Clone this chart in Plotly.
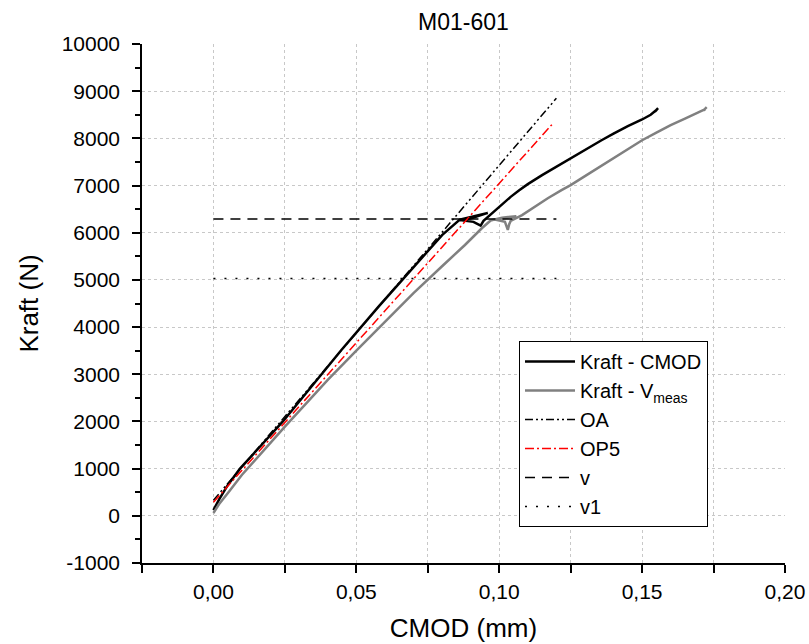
import plotly.graph_objects as go

# ---- data ----
cmod_x = [0.0, 0.002, 0.005, 0.0093, 0.0243, 0.0377, 0.0447, 0.058, 0.0715, 0.080, 0.0862,
          0.091, 0.096, 0.090, 0.0862, 0.091, 0.0935, 0.0945, 0.0955,
          0.098, 0.101, 0.104, 0.107, 0.110, 0.115, 0.120, 0.125, 0.130, 0.1358, 0.140,
          0.145, 0.150, 0.153, 0.1552, 0.1545, 0.1556]
cmod_f = [120, 350, 650, 1000, 2000, 3000, 3510, 4450, 5383, 5950, 6280,
          6350, 6420, 6300, 6270, 6230, 6150, 6250, 6303,
          6450, 6610, 6760, 6900, 7030, 7220, 7400, 7580, 7760, 7960, 8100,
          8260, 8400, 8500, 8610, 8570, 8640]

vmeas_x = [0.0, 0.002, 0.005, 0.010, 0.025, 0.040, 0.050, 0.060, 0.070, 0.080, 0.088,
           0.094, 0.097, 0.101, 0.106, 0.101, 0.0985, 0.102, 0.103, 0.1035, 0.104,
           0.108, 0.112, 0.117, 0.1218, 0.125, 0.130, 0.135, 0.140, 0.145, 0.150,
           0.155, 0.160, 0.165, 0.170, 0.1721, 0.1714, 0.1726]
vmeas_f = [60, 250, 480, 870, 1890, 2880, 3500, 4120, 4720, 5290, 5740,
           6100, 6260, 6320, 6350, 6300, 6280, 6230, 6060, 6180, 6250,
           6373, 6540, 6730, 6903, 7010, 7200, 7390, 7570, 7760, 7960,
           8120, 8280, 8420, 8560, 8620, 8590, 8660]

oa_x = [0.0, 0.12]
oa_f = [330, 8850]

op5_x = [0.0, 0.119]
op5_f = [290, 8330]

v_x = [0.0, 0.12]
v_f = [6290, 6290]

v1_x = [0.0, 0.12]
v1_f = [5030, 5030]

x_tickvals = [0.0, 0.05, 0.10, 0.15, 0.20]
x_ticktext = ["0,00", "0,05", "0,10", "0,15", "0,20"]
x_minorvals = [-0.025, 0.025, 0.075, 0.125, 0.175]
y_tickvals = [-1000, 0, 1000, 2000, 3000, 4000, 5000, 6000, 7000, 8000, 9000, 10000]
y_ticktext = [str(v) for v in y_tickvals]
y_minorvals = [-500 + 1000 * i for i in range(11)]

FONT = "Liberation Sans, Arial, sans-serif"

fig = go.Figure()
fig.add_trace(go.Scatter(x=cmod_x, y=cmod_f, mode="lines", name="Kraft - CMOD",
                         line=dict(color="black", width=2.5)))
fig.add_trace(go.Scatter(x=vmeas_x, y=vmeas_f, mode="lines", name="Kraft - V<sub>meas</sub>",
                         line=dict(color="#808080", width=2.5)))
fig.add_trace(go.Scatter(x=oa_x, y=oa_f, mode="lines", name="OA",
                         line=dict(color="black", width=1.5, dash="8px,3px,2px,3px,2px,3px")))
fig.add_trace(go.Scatter(x=op5_x, y=op5_f, mode="lines", name="OP5",
                         line=dict(color="red", width=1.5, dash="9px,3px,2px,3px")))
fig.add_trace(go.Scatter(x=v_x, y=v_f, mode="lines", name="v",
                         line=dict(color="black", width=1.5, dash="10px,7px")))
fig.add_trace(go.Scatter(x=v1_x, y=v1_f, mode="lines", name="v1",
                         line=dict(color="black", width=1.5, dash="2px,9px")))

grid_col = "#c8c8c8"
fig.update_layout(
    width=809, height=644, autosize=False,
    margin=dict(l=142, r=24, t=44, b=81),
    paper_bgcolor="white", plot_bgcolor="white",
    font=dict(family=FONT, color="black", size=20),
    title=dict(text="M01-601", x=0.5, xref="paper", xanchor="center",
               y=1 - 22 / 644, yref="container", yanchor="middle",
               font=dict(size=23, family=FONT, color="black")),
    showlegend=True,
    legend=dict(x=(519 - 142) / 643, y=(563 - 341) / 519, xanchor="left", yanchor="top",
                bordercolor="black", borderwidth=1, bgcolor="white",
                font=dict(size=20, family=FONT, color="black"),
                tracegroupgap=0, itemwidth=50),
)
fig.update_xaxes(
    range=[-0.025, 0.20], showline=True, linecolor="black", linewidth=1.5,
    mirror=False, zeroline=False, automargin=False,
    tickmode="array", tickvals=x_tickvals, ticktext=x_ticktext,
    ticks="outside", ticklen=8, tickwidth=1.5, tickcolor="black",
    ticklabelstandoff=1,
    tickfont=dict(size=21, family=FONT, color="black"),
    showgrid=True, gridcolor=grid_col, griddash="dot", gridwidth=1,
    minor=dict(tickmode="array", tickvals=x_minorvals, ticks="outside", ticklen=8,
               tickwidth=1.5, tickcolor="black", showgrid=True, gridcolor=grid_col,
               griddash="dot", gridwidth=1),
    title=dict(text="CMOD (mm)", font=dict(size=26, family=FONT, color="black"), standoff=17),
)
fig.update_yaxes(
    range=[-1000, 10000], showline=True, linecolor="black", linewidth=1.5,
    mirror=False, zeroline=False, automargin=False,
    tickmode="array", tickvals=y_tickvals, ticktext=y_ticktext,
    ticks="outside", ticklen=8, tickwidth=1.5, tickcolor="black",
    ticklabelstandoff=8,
    tickfont=dict(size=21, family=FONT, color="black"),
    showgrid=True, gridcolor=grid_col, griddash="dot", gridwidth=1,
    minor=dict(tickmode="array", tickvals=y_minorvals, ticks="outside", ticklen=5,
               tickwidth=1.5, tickcolor="black", showgrid=False),
    title=dict(text="Kraft (N)", font=dict(size=26, family=FONT, color="black"), standoff=16),
)

fig.write_html("out.html")
